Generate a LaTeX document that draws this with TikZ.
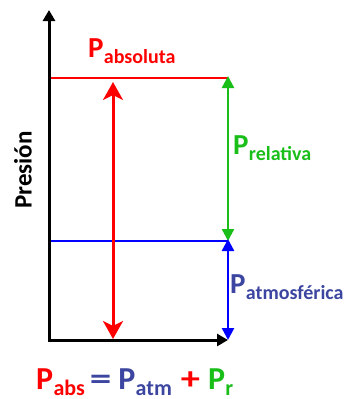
\documentclass[tikz,border=0pt]{standalone}
\usepackage{graphicx}
\usepackage{fontspec}
\setmainfont{Carlito}
\usetikzlibrary{arrows.meta, positioning}
\definecolor{rojo}{RGB}{255,0,0}
\definecolor{verde}{RGB}{25,190,25}
\definecolor{azul}{RGB}{0,0,255}
\definecolor{azultexto}{RGB}{60,70,160}
\newcommand{\Psub}[2][20]{P\kern0.3pt\raisebox{-6pt}{\fontsize{#1}{#1}\selectfont #2}}

\begin{document}
\begin{tikzpicture}[x=1pt, y=-1pt,
                eje/.style={line width=3pt, line join=miter, {Triangle[length=11pt,width=12pt]}-{Triangle[length=11pt,width=12pt]}},
                nivel/.style={line width=1.3pt},
                flecha/.style={line width=2.4pt, {Triangle[length=12pt,width=12pt]}-{Triangle[length=12pt,width=12pt]}},
                flechagrande/.style={line width=3pt, {Stealth[length=18pt,width=20pt,inset=5pt]}-{Stealth[length=18pt,width=20pt,inset=5pt]}},
                rotulo/.style={font=\bfseries\fontsize{29}{30}\selectfont, inner sep=0pt, anchor=base west}
            ]
            \useasboundingbox (0,0) rectangle (347,399);

            % Puntos
            \coordinate (O) at (49,340);
            \coordinate (ytip) at (49,10);
            \coordinate (xtip) at (228,340);
            \coordinate (absL) at (49,78);
            \coordinate (absR) at (228,78);
            \coordinate (atmL) at (49,241);
            \coordinate (atmR) at (228,241);

            % Niveles
            \draw[nivel, rojo] (absL) -- (absR);
            \draw[nivel, azul] (atmL) -- (atmR);

            % Ejes
            \draw[eje] (ytip) -- (O) -- (xtip);

            % Flechas
            \draw[flechagrande, rojo] (113,82) -- (113,339);
            \draw[flecha, verde] ([yshift=2pt]absR) -- (atmR);
            \draw[flecha, azul] ([yshift=2pt]atmR) -- (xtip);

            % Textos
            \node[rotulo, rojo] (pabs) at (88,57) {\Psub{absoluta}};
            \node[rotulo, verde] (prel) at (233,154) {\Psub{relativa}};
            \node[rotulo, azultexto] (patm) at (230,293) {\Psub{atmosférica}};
            \node[font=\bfseries\fontsize{25}{26}\selectfont, rotate=90, inner sep=0pt] (presion) at (23,170) {Presión};
            \node[rotulo, font=\bfseries\fontsize{32}{34}\selectfont] (ecuacion) at (36,389)
                {\textcolor{rojo}{\Psub[22]{abs}}\hspace{5pt}\textcolor{azultexto}{\scalebox{1.35}[1]{=}}\hspace{7pt}\textcolor{azultexto}{\Psub[22]{atm}}\hspace{9pt}\textcolor{rojo}{\scalebox{1.2}[1]{+}}\hspace{8pt}\textcolor{verde}{\Psub[22]{r}}};

        \end{tikzpicture}
\end{document}
